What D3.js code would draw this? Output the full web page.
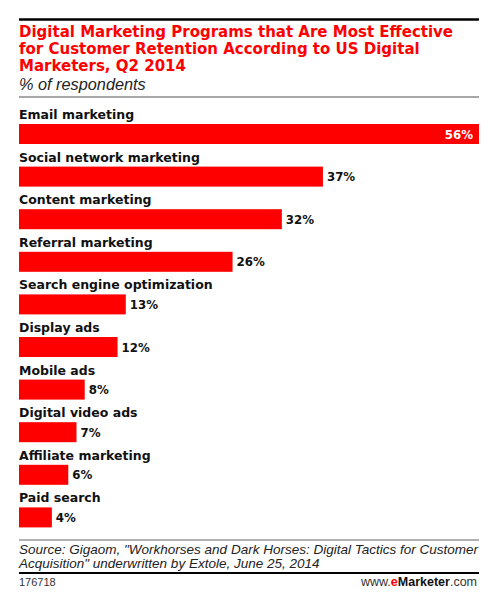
<!DOCTYPE html>
<html>
<head>
<meta charset="utf-8">
<script src="https://cdn.jsdelivr.net/npm/d3@7"></script>
<style>
  body { margin: 0; background: #fff; }
  svg { display: block; }
  .title { font-family: "DejaVu Sans", sans-serif; font-weight: bold; font-size: 15px; fill: #f00; }
  .sub { font-family: "Liberation Sans", Arial, sans-serif; font-style: italic; font-size: 16.3px; fill: #222; }
  .cat { font-family: "DejaVu Sans", sans-serif; font-weight: bold; font-size: 12.5px; fill: #111; }
  .val { font-family: "DejaVu Sans", sans-serif; font-weight: bold; font-size: 11.8px; fill: #111; }
  .src { font-family: "Liberation Sans", Arial, sans-serif; font-style: italic; font-size: 13.5px; fill: #222; }
  .foot { font-family: "Liberation Sans", Arial, sans-serif; font-size: 11px; fill: #333; }
  .brand { font-family: "Liberation Sans", Arial, sans-serif; font-size: 12.5px; fill: #333; }
</style>
</head>
<body>
<div id="chart"></div>
<script>
var categories = ["Email marketing", "Social network marketing", "Content marketing", "Referral marketing",
  "Search engine optimization", "Display ads", "Mobile ads", "Digital video ads", "Affiliate marketing", "Paid search"];
var values = [56, 37, 32, 26, 13, 12, 8, 7, 6, 4];
var titleLines = ["Digital Marketing Programs that Are Most Effective",
  "for Customer Retention According to US Digital",
  "Marketers, Q2 2014"];
var subtitle = "% of respondents";
var sourceLines = ["Source: Gigaom, \"Workhorses and Dark Horses: Digital Tactics for Customer",
  "Acquisition\" underwritten by Extole, June 25, 2014"];
var chartId = "176718";

function main() {
    var width = 491,
      height = 597,
      left = 19,
      right = 479;

    var svg = d3.select("#chart").append("svg").attr("width", width).attr("height", height);

    // header
    svg.append("line").attr("x1", left).attr("x2", right).attr("y1", 19.5).attr("y2", 19.5)
      .attr("stroke", "#000").attr("stroke-width", 2.5);
    svg.selectAll(".title").data(titleLines).enter().append("text")
      .attr("class", "title")
      .attr("x", left)
      .attr("y", function(d, i) { return 36.5 + i * 17; })
      .text(function(d) { return d; });
    svg.append("text").attr("class", "sub").attr("x", left).attr("y", 90).text(subtitle);
    svg.append("line").attr("x1", left).attr("x2", right).attr("y1", 97).attr("y2", 97)
      .attr("stroke", "#8a8a8a").attr("stroke-width", 1.5);

    // bars
    var x = d3.scaleLinear().domain([0, d3.max(values)]).range([left, right]);
    var y = d3.scaleBand().domain(categories).range([124, 124 + 42.6 * categories.length]).paddingInner(0).paddingOuter(0);
    var barH = 20;

    var g = svg.append("g").attr("class", "bars");
    var rows = g.selectAll(".row")
      .data(categories.map(function(c, i) { return {name: c, value: values[i]}; }))
    .enter().append("g")
      .attr("class", "row")
      .attr("transform", function(d) { return "translate(0," + y(d.name) + ")"; });

    rows.append("rect")
      .attr("x", x(0))
      .attr("y", 0)
      .attr("width", function(d) { return x(d.value) - x(0); })
      .attr("height", barH)
      .attr("fill", "#f00");

    rows.append("text")
      .attr("class", "cat")
      .attr("x", left)
      .attr("y", -5)
      .text(function(d) { return d.name; });

    // biggest bar gets its label inside, in white
    var maxV = d3.max(values);
    rows.append("text")
      .attr("class", "val")
      .attr("x", function(d) { return d.value === maxV ? x(d.value) - 6 : x(d.value) + 4; })
      .attr("y", 14.5)
      .attr("text-anchor", function(d) { return d.value === maxV ? "end" : "start"; })
      .style("fill", function(d) { return d.value === maxV ? "#fff" : null; })
      .text(function(d) { return d.value + "%"; });

    // footer
    svg.append("line").attr("x1", left).attr("x2", right).attr("y1", 540).attr("y2", 540)
      .attr("stroke", "#666").attr("stroke-width", 1);
    svg.selectAll(".src").data(sourceLines).enter().append("text")
      .attr("class", "src")
      .attr("x", left)
      .attr("y", function(d, i) { return 554 + i * 14; })
      .text(function(d) { return d; });
    svg.append("line").attr("x1", left).attr("x2", right).attr("y1", 573).attr("y2", 573)
      .attr("stroke", "#000").attr("stroke-width", 2);
    svg.append("text").attr("class", "foot").attr("x", left).attr("y", 586).text(chartId);

    var brand = svg.append("text").attr("class", "brand").attr("x", 477).attr("y", 586).attr("text-anchor", "end");
    brand.append("tspan").text("www.");
    brand.append("tspan").style("fill", "#f00").style("font-weight", "bold").text("e");
    brand.append("tspan").style("fill", "#111").style("font-weight", "bold").text("Marketer");
    brand.append("tspan").text(".com");
}

main();
</script>
</body>
</html>
